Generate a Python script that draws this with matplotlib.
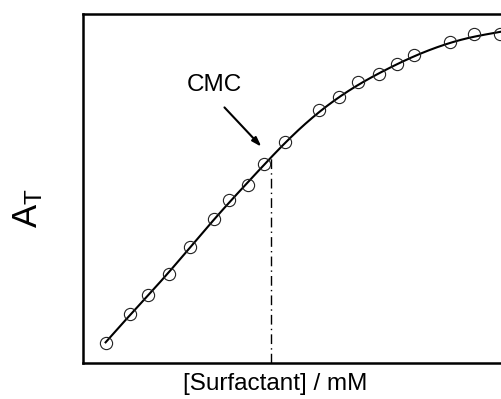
import numpy as np
import matplotlib
matplotlib.use("Agg")
import matplotlib.pyplot as plt

plt.rcParams['font.family'] = ['Liberation Sans', 'DejaVu Sans']
plt.rcParams['mathtext.default'] = 'regular'

# data (arbitrary units)
conc = [0.55, 1.12, 1.57, 2.07, 2.55, 3.14, 3.48, 3.93, 4.31, 4.81,
        5.64, 6.10, 6.57, 7.05, 7.50, 7.90, 8.74, 9.31, 9.93]
absorb = [0.057, 0.138, 0.195, 0.253, 0.333, 0.411, 0.468, 0.509, 0.569, 0.635,
          0.727, 0.764, 0.805, 0.830, 0.859, 0.885, 0.920, 0.943, 0.945]
cmc_x = 4.48
xlabel = "[Surfactant] / mM"
ylabel = r"A$_T$"
cmc_label = "CMC"

W, H = 501, 399
fig = plt.figure(figsize=(W / 100, H / 100), dpi=100)
left, right, bottom, top = 82.5, 506, 362.5, 13.5
ax = fig.add_axes([left / W, 1 - bottom / H, (right - left) / W, (bottom - top) / H])
ax.set_xlim(0, (right - left) / 42.0)
ax.set_ylim(0, (bottom - top) / 348.0)

# smooth curve derived from the data: linear interpolation, linear
# extrapolation at both ends, then gaussian smoothing
cx = np.asarray(conc)
cy = np.asarray(absorb)
xs = np.linspace(-2.0, 13.0, 1501)
ys = np.interp(xs, cx, cy)
p0 = np.polyfit(cx[:5], cy[:5], 1)
p1 = np.polyfit(cx[-4:], cy[-4:], 1)
lo = xs < cx[0]
hi = xs > cx[-1]
ys[lo] = cy[0] + p0[0] * (xs[lo] - cx[0])
ys[hi] = cy[-1] + p1[0] * (xs[hi] - cx[-1])
dx = xs[1] - xs[0]
sig = 0.55
k = np.arange(-4 * sig, 4 * sig + dx, dx)
kern = np.exp(-0.5 * (k / sig) ** 2)
kern /= kern.sum()
ys_s = np.convolve(ys, kern, mode='same')
m = (xs >= cx[0]) & (xs <= 10.3)
ax.plot(xs[m], ys_s[m], color='black', lw=1.5, zorder=3)

ax.plot(conc, absorb, linestyle='none', marker='o', markersize=8.8,
        markerfacecolor='none', markeredgecolor='#222222', markeredgewidth=0.8, zorder=4)

ycmc = np.interp(cmc_x, xs, ys_s)
ax.plot([cmc_x, cmc_x], [0, ycmc], color='black', lw=1.0,
        linestyle=(0, (7, 3, 1, 3)), zorder=2)

ax.annotate('', xy=(4.26, 0.620), xytext=(3.38, 0.733),
            arrowprops=dict(arrowstyle='-|>,head_length=0.55,head_width=0.18',
                            color='black', lw=1.5, shrinkA=0, shrinkB=0))
ax.text(3.14, 0.798, cmc_label, ha='center', va='center', fontsize=17.5)

for s in ax.spines.values():
    s.set_linewidth(1.8)
ax.set_xticks([])
ax.set_yticks([])

fig.text(275.5 / W, 1 - 384 / H, xlabel, ha='center', va='center', fontsize=17.5)
fig.text(28 / W, 1 - 208 / H, ylabel, ha='center', va='center', fontsize=25, rotation=90)

fig.savefig('out.png', dpi=100)
